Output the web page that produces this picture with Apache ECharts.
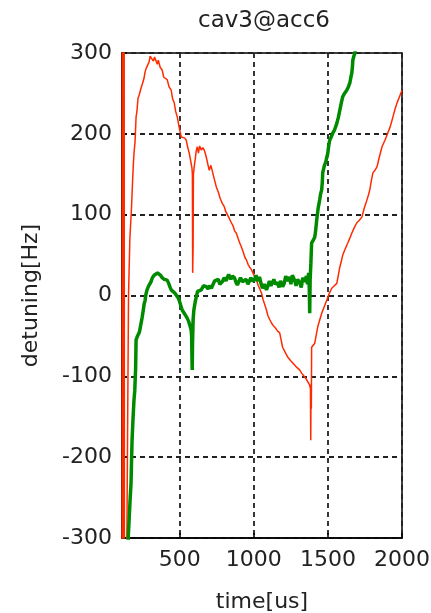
<!DOCTYPE html>
<html>
<head>
<meta charset="utf-8">
<script src="https://cdn.jsdelivr.net/npm/echarts@6/dist/echarts.min.js"></script>
<style>html,body{margin:0;padding:0;background:#fff}#c{width:431px;height:613px}</style>
</head>
<body>
<div id="c"></div>
<script>
const titleText = 'cav3@acc6';
const xName = 'time[us]';
const yName = 'detuning[Hz]';
const xTicks = [500, 1000, 1500, 2000];
const yTicks = [-300, -200, -100, 0, 100, 200, 300];

const redSeries = [
[110,-600],[112,600],[115,-600],[118,600],[121,-600],[124,600],[127,-600],
[143,-300],[148,-160],[154,0],[163,70],[174,108],[180,135],[186,160],[191,176],[198,190],[205,221],[211,228],[218,244],[226,248],[239,257],[248,262],[259,269],[265,276],[273,281],[282,283],[293,289],[300,296],[313,297],[322,290],[330,295],[340,294],[348,286],[355,291],[361,289],[368,282],[381,279],[392,270],[403,272],[415,267],[428,258],[442,254],[452,243],[462,239],[472,228],[483,221],[496,208],[510,196],[520,194],[532,195],[544,192],[554,183],[564,176],[575,165],[582,158],[585,150],[587,28],[590,60],[592,150],[598,160],[604,168],[610,178],[618,184],[626,176],[634,185],[645,180],[655,183],[665,180],[672,176],[679,171],[690,162],[699,155],[710,161],[720,159],[733,144],[747,134],[760,128],[773,120],[787,114],[800,110],[810,104],[821,102],[835,95],[848,90],[860,86],[870,80],[882,77],[895,70],[905,65],[916,60],[930,53],[940,47],[950,44],[962,38],[972,35],[984,32],[996,27],[1008,22],[1018,19],[1030,12],[1040,8],[1052,3],[1062,-5],[1075,-12],[1085,-18],[1095,-25],[1108,-30],[1119,-34],[1130,-37],[1145,-40],[1160,-44],[1174,-46],[1184,-55],[1194,-64],[1205,-66],[1216,-72],[1228,-76],[1240,-78],[1250,-81],[1262,-83],[1275,-86],[1290,-89],[1309,-92],[1322,-96],[1335,-99],[1345,-100],[1356,-104],[1365,-106],[1377,-111],[1382,-115],[1384,-179],[1386,-110],[1388,-140],[1390,-64],[1400,-62],[1411,-59],[1420,-50],[1431,-39],[1445,-30],[1458,-22],[1475,-14],[1492,-6],[1510,3],[1526,9],[1543,12],[1560,15],[1570,25],[1580,35],[1590,42],[1600,50],[1615,57],[1634,65],[1648,71],[1661,77],[1678,84],[1695,90],[1712,93],[1729,97],[1745,108],[1763,118],[1773,124],[1783,131],[1794,143],[1804,152],[1818,155],[1831,159],[1848,172],[1865,184],[1875,188],[1885,192],[1902,200],[1919,208],[1930,215],[1939,221],[1952,230],[1966,238],[1983,246],[2000,254]
];

const greenSeries = [
[110,-700],[140,-700],[152,-300],[164,-255],[171,-232],[175,-200],[178,-179],[185,-150],[191,-129],[196,-118],[198,-117],[202,-90],[205,-55],[215,-50],[228,-45],[239,-43],[246,-27],[252,-20],[260,-10],[266,-6],[272,2],[279,7],[290,12],[306,17],[315,22],[327,25],[340,27],[350,28],[361,27],[370,25],[381,22],[395,20],[405,22],[415,19],[425,15],[435,10],[442,7],[455,5],[466,3],[476,1],[486,-2],[496,-6],[506,-12],[516,-18],[530,-22],[540,-25],[550,-28],[560,-32],[570,-38],[577,-43],[580,-50],[582,-75],[584,-92],[586,-60],[590,-30],[595,-18],[598,-18],[604,-8],[611,-2],[620,5],[630,6],[645,7],[660,12],[670,10],[679,11],[690,8],[700,12],[713,9],[725,14],[735,18],[747,17],[760,20],[770,14],[787,17],[800,22],[812,18],[821,22],[830,26],[845,20],[855,24],[869,22],[880,16],[889,13],[900,18],[910,22],[923,17],[935,15],[948,20],[960,14],[970,16],[980,22],[990,18],[1004,19],[1015,25],[1025,18],[1038,23],[1048,15],[1058,9],[1070,14],[1085,7],[1095,12],[1105,18],[1115,12],[1126,16],[1135,20],[1145,14],[1160,16],[1170,10],[1180,18],[1194,11],[1205,15],[1215,24],[1228,18],[1241,23],[1250,14],[1260,25],[1275,19],[1285,12],[1295,20],[1309,16],[1320,10],[1330,22],[1343,17],[1355,24],[1362,14],[1370,28],[1374,10],[1377,-22],[1380,20],[1385,40],[1390,65],[1400,68],[1411,72],[1417,80],[1424,93],[1434,108],[1444,118],[1450,125],[1458,131],[1462,140],[1465,152],[1475,160],[1485,165],[1499,176],[1505,185],[1512,192],[1522,196],[1533,201],[1545,205],[1560,213],[1570,220],[1580,229],[1590,238],[1600,246],[1612,250],[1627,254],[1638,258],[1648,263],[1655,270],[1661,275],[1665,282],[1668,291],[1675,296],[1682,300],[1695,316],[1710,340]
];

const FONT = 'DejaVu Sans';
const chart = echarts.init(document.getElementById('c'));
chart.setOption({
  animation: false,
  backgroundColor: '#fff',
  title: {
    text: titleText, left: 259, top: 5, textAlign: 'center',
    textStyle: {fontFamily: FONT, fontSize: 23, fontWeight: 'normal', color: '#222'}
  },
  grid: {left: 122, right: 29, top: 53, bottom: 75, show: true, borderColor: '#000', borderWidth: 1.5,
    backgroundColor: 'transparent', containLabel: false, outerBoundsMode: 'none'},
  xAxis: {
    type: 'value', min: 110, max: 2000,
    name: xName, nameLocation: 'middle', nameGap: 53,
    nameTextStyle: {fontFamily: FONT, fontSize: 22, color: '#222'},
    axisLine: {show: true, onZero: false, lineStyle: {color: '#000', width: 1.5}},
    axisTick: {show: true, inside: true, length: 5, customValues: xTicks, lineStyle: {color: '#000', width: 1.5}},
    axisLabel: {customValues: xTicks, fontFamily: FONT, fontSize: 22, color: '#222', margin: 11,
      formatter: v => String(v)},
    splitLine: {show: true, lineStyle: {color: '#222', type: [5, 4], width: 1.8}}
  },
  yAxis: {
    type: 'value', min: -300, max: 300, interval: 100,
    name: yName, nameLocation: 'middle', nameGap: 80,
    nameTextStyle: {fontFamily: FONT, fontSize: 22, color: '#222'},
    axisLine: {show: true, onZero: false, lineStyle: {color: '#000', width: 1.5}},
    axisTick: {show: true, inside: true, length: 5, lineStyle: {color: '#000', width: 1.5}},
    axisLabel: {fontFamily: FONT, fontSize: 22, color: '#222', margin: 10,
      formatter: v => yTicks.includes(v) ? String(v) : ''},
    splitLine: {show: true, lineStyle: {color: '#222', type: [5, 4], width: 1.8}}
  },
  series: [
    {type: 'line', data: redSeries, showSymbol: false, lineStyle: {color: '#ff2b00', width: 1.5}, z: 3},
    {type: 'line', data: greenSeries, showSymbol: false, lineStyle: {color: '#008a00', width: 3.5}, z: 4}
  ]
});
</script>
</body>
</html>
